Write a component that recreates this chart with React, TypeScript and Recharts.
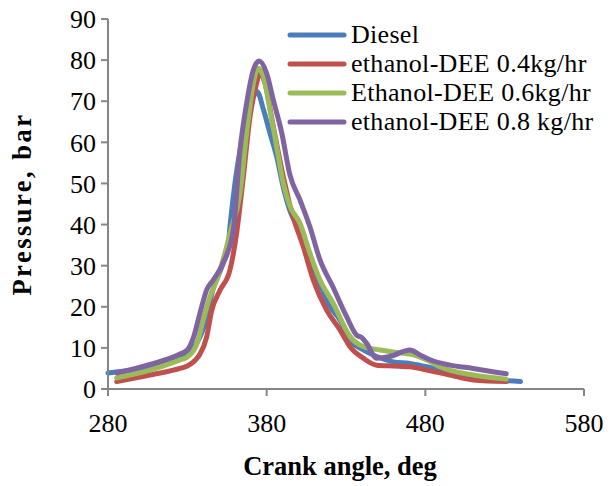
import { LineChart, Line, XAxis, YAxis, Legend } from "recharts";

// crank angle (deg) / cylinder pressure (bar) for each fuel
const dieselAngle = [280, 296, 310, 325, 335, 342, 346, 350, 353, 355.5, 357, 360, 363.2, 367.4, 371.6, 374, 378, 382.1, 386.3, 390.5, 395, 401, 407, 414, 420, 426.2, 432.5, 440.9, 449.3, 459.8, 470.3, 480.8, 495, 510, 525, 540];
const dieselPressure = [3.9, 4.6, 5.5, 7.3, 10.5, 17, 24, 28, 31, 34, 40, 50, 58.1, 66.2, 71.1, 72.3, 67.9, 62.2, 56.5, 49, 43, 38.5, 31.5, 25, 20, 16.8, 11.9, 9.5, 7.9, 6.6, 6.2, 5.4, 4.2, 3.0, 2.2, 1.8];

const ed04Angle = [285.5, 306.5, 325.4, 330, 335, 338, 342.2, 345.3, 350.6, 356.9, 361.1, 365.3, 369.5, 373.7, 375.8, 378.9, 384.2, 390.5, 395.8, 403.1, 409.4, 417.8, 426.2, 432.5, 440.9, 449.3, 459.8, 470.3, 480.8, 495.5, 510.2, 531];
const ed04Pressure = [1.8, 3.4, 5.0, 5.6, 7.0, 8.5, 12.7, 19, 24, 29, 38, 51.6, 66.2, 74.4, 77, 74.4, 63.8, 51.6, 43, 34.6, 26.5, 19.2, 14.4, 10.3, 7.5, 5.8, 5.6, 5.4, 4.6, 3.4, 2.2, 1.8];

const ed06Angle = [285.5, 306.5, 325.4, 330, 336, 340, 344.3, 348.5, 353.7, 357, 363.2, 367.4, 371.6, 374.7, 377.9, 382.1, 386.3, 390.5, 394.7, 401, 407.3, 413.6, 422, 432.5, 440.9, 451.4, 464, 470.3, 480.8, 489.2, 510.2, 531];
const ed06Pressure = [2.7, 4.6, 7.1, 7.8, 11, 16.8, 22.5, 26.5, 33, 38, 47.7, 62.3, 74.4, 78, 76, 67.9, 58.9, 50, 44.5, 40.3, 33, 26.5, 20.8, 12.8, 10.3, 9.5, 8.8, 8.5, 7.1, 5.4, 3.4, 2.4];

const ed08Angle = [285.5, 306.5, 325.4, 330, 334, 338, 342.2, 346.3, 352.5, 359, 363.2, 367.4, 371.6, 375.3, 380, 384.2, 389.5, 394.7, 401, 407.3, 413.6, 421.8, 430.4, 436.7, 440, 443, 449.3, 457.7, 470.3, 476.6, 483, 495.5, 510, 531];
const ed08Pressure = [3.9, 6.0, 8.5, 9.5, 12.7, 18.5, 24.1, 26.5, 30.6, 38.7, 58.1, 69.6, 77.6, 79.8, 76.8, 70.3, 62.3, 52, 46, 39.4, 31.4, 24.8, 17.6, 13.1, 12.5, 11.1, 7.5, 7.9, 9.5, 8.3, 7.1, 5.8, 5.0, 3.7];

const angleTicks = [280, 380, 480, 580];
const pressureTicks = [0, 10, 20, 30, 40, 50, 60, 70, 80, 90];

const toRows = (xs: number[], ys: number[]) => xs.map((x, i) => ({ x, y: ys[i] }));

const series = [
  { name: "Diesel", color: "#4a7ebb", data: toRows(dieselAngle, dieselPressure) },
  { name: "ethanol-DEE 0.4kg/hr", color: "#c0504d", data: toRows(ed04Angle, ed04Pressure) },
  { name: "Ethanol-DEE 0.6kg/hr", color: "#9bbb59", data: toRows(ed06Angle, ed06Pressure) },
  { name: "ethanol-DEE 0.8 kg/hr", color: "#8064a2", data: toRows(ed08Angle, ed08Pressure) },
];

const FONT = "'Liberation Serif', 'Times New Roman', serif";
const AXIS = "#868686";

function LegendBox() {
  return (
    <div style={{ fontFamily: FONT, fontSize: 26, color: "#000", lineHeight: "29px" }}>
      {series.map((s) => (
        <div key={s.name} style={{ display: "flex", alignItems: "center", whiteSpace: "nowrap" }}>
          <svg width={62} height={29}>
            <line x1={4} y1={15} x2={58} y2={15} stroke={s.color} strokeWidth={5} strokeLinecap="round" />
          </svg>
          <span style={{ marginLeft: 3, letterSpacing: 0.3 }}>{s.name}</span>
        </div>
      ))}
    </div>
  );
}

// axis titles, placed from the axis viewBox
const XTitle = ({ viewBox }: any) => (
  <text
    x={viewBox.x + viewBox.width / 2 - 6}
    y={viewBox.y + 86}
    textAnchor="middle"
    fontFamily={FONT}
    fontSize={26.5}
    fontWeight="bold"
    fill="#000"
  >
    Crank angle, deg
  </text>
);

const YTitle = ({ viewBox }: any) => {
  const cx = 31;
  const cy = viewBox.y + viewBox.height / 2;
  return (
    <text
      x={cx}
      y={cy}
      transform={`rotate(-90 ${cx} ${cy})`}
      textAnchor="middle"
      fontFamily={FONT}
      fontSize={26.5}
      fontWeight="bold"
      letterSpacing={2.5}
      fill="#000"
    >
      Pressure, bar
    </text>
  );
};

export default function App() {
  return (
    <div style={{ position: "absolute", left: 0, top: 0, background: "#fff" }}>
      <LineChart width={611} height={486} margin={{ top: 19, right: 27, bottom: 0, left: 8 }}>
        <XAxis
          type="number"
          dataKey="x"
          domain={[280, 580]}
          ticks={angleTicks}
          allowDuplicatedCategory={false}
          height={97}
          stroke={AXIS}
          strokeWidth={2}
          tickSize={7}
          tickMargin={18}
          tick={{ fill: "#000", fontSize: 26, fontFamily: FONT }}
          label={<XTitle />}
        />
        <YAxis
          type="number"
          domain={[0, 90]}
          ticks={pressureTicks}
          width={100}
          stroke={AXIS}
          strokeWidth={2}
          tickSize={7}
          tickMargin={5}
          tick={{ fill: "#000", fontSize: 26, fontFamily: FONT }}
          label={<YTitle />}
        />
        <Legend
          layout="vertical"
          align="center"
          verticalAlign="middle"
          content={() => <LegendBox />}
          wrapperStyle={{ left: 286, top: 20, width: "auto", height: "auto" }}
        />
        {series.map((s) => (
          <Line
            key={s.name}
            data={s.data}
            dataKey="y"
            name={s.name}
            type="monotone"
            stroke={s.color}
            strokeWidth={5}
            strokeLinecap="round"
            dot={false}
            activeDot={false}
            isAnimationActive={false}
          />
        ))}
      </LineChart>
    </div>
  );
}
